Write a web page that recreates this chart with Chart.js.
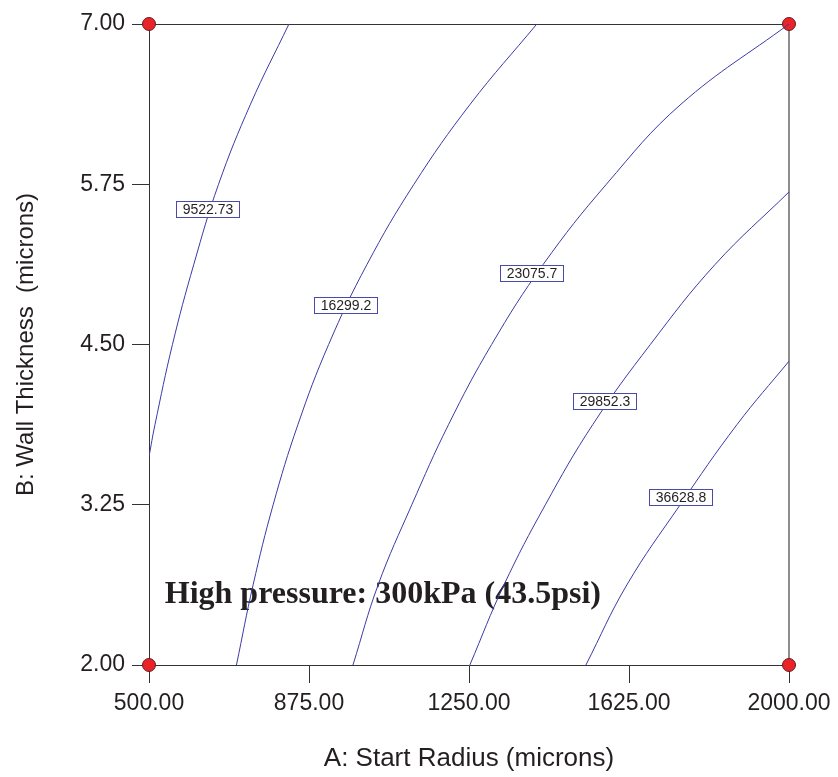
<!DOCTYPE html>
<html>
<head>
<meta charset="utf-8">
<script src="https://cdn.jsdelivr.net/npm/chart.js@4.4.1/dist/chart.umd.min.js"></script>
<style>
  html, body { margin: 0; padding: 0; background: #ffffff; }
  #wrap { width: 838px; height: 777px; }
</style>
</head>
<body>
<div id="wrap"><canvas id="chart" width="838" height="777"></canvas></div>
<script>
// Axis ticks
const radiusTicks = [500, 875, 1250, 1625, 2000];
const thicknessTicks = [2.00, 3.25, 4.50, 5.75, 7.00];

// Contour levels (pressure response) and the iso-lines, as [radius, thickness]
const levels = [9522.73, 16299.2, 23075.7, 29852.3, 36628.8];
const line9522 = [[500, 3.625], [514, 3.875], [555, 4.5], [605, 5.125], [663, 5.75], [738, 6.375], [828, 7.0]];
const line16299 = [[705, 2.0], [744, 2.625], [791, 3.25], [849, 3.875], [921, 4.5], [1011, 5.125], [1121, 5.75], [1253, 6.375], [1409, 7.0]];
const line23075 = [[978, 2.0], [1037, 2.625], [1116, 3.25], [1202, 3.875], [1303, 4.5], [1424, 5.125], [1572, 5.75], [1747, 6.375], [2000, 7.0]];
const line29852 = [[1252, 2.0], [1332, 2.625], [1429, 3.25], [1540, 3.875], [1675, 4.5], [1827, 5.125], [2000, 5.69]];
const line36628 = [[1524, 2.0], [1620, 2.625], [1745, 3.25], [1878, 3.875], [2000, 4.37]];

// Where each level's value tag sits on its line
const tagRadius = [638, 961, 1397, 1567, 1746];
const tagThickness = [5.56, 4.81, 5.06, 4.06, 3.31];

// Design points at the corners of the region
const designRadius = [500, 2000, 500, 2000];
const designThickness = [2, 2, 7, 7];

const noteText = 'High pressure: 300kPa (43.5psi)';
const noteAt = [537, 2.48];

const contourLines = [line9522, line16299, line23075, line29852, line36628];

const INK = '#231f20';
const LINE_BLUE = '#3a3aa6';
const SANS = '"Liberation Sans", Arial, sans-serif';

// Top and right frame edges plus the pressure note (drawn under the lines)
const framePlugin = {
  id: 'frame',
  beforeDatasetsDraw(chart) {
    const { ctx, chartArea: a, scales } = chart;
    ctx.save();
    ctx.font = 'bold 32px "Liberation Serif", "Times New Roman", serif';
    ctx.fillStyle = INK;
    ctx.textBaseline = 'alphabetic';
    ctx.textAlign = 'left';
    ctx.fillText(noteText, scales.x.getPixelForValue(noteAt[0]), scales.y.getPixelForValue(noteAt[1]));

    ctx.strokeStyle = '#333333';
    ctx.lineWidth = 1;
    ctx.beginPath();
    ctx.moveTo(a.left, Math.round(a.top) + 0.5);
    ctx.lineTo(a.right, Math.round(a.top) + 0.5);
    ctx.stroke();
    ctx.strokeStyle = '#8e8e8e';
    ctx.lineWidth = 2;
    ctx.beginPath();
    ctx.moveTo(Math.round(a.right), a.top);
    ctx.lineTo(Math.round(a.right), a.bottom);
    ctx.stroke();
    ctx.restore();
  }
};

// Boxed value tags on the contour lines
const tagPlugin = {
  id: 'tags',
  afterDatasetsDraw(chart) {
    const { ctx, scales } = chart;
    ctx.save();
    ctx.font = '14px ' + SANS;
    ctx.textAlign = 'center';
    ctx.textBaseline = 'middle';
    levels.forEach((lv, i) => {
      const cx = scales.x.getPixelForValue(tagRadius[i]);
      const cy = scales.y.getPixelForValue(tagThickness[i]);
      const w = 63, h = 16;
      const x0 = Math.round(cx - w / 2) + 0.5, y0 = Math.round(cy - h / 2) + 0.5;
      ctx.fillStyle = '#ffffff';
      ctx.fillRect(x0, y0, w, h);
      ctx.strokeStyle = '#4a4aae';
      ctx.lineWidth = 1;
      ctx.strokeRect(x0, y0, w, h);
      ctx.fillStyle = INK;
      ctx.fillText(String(lv), x0 + w / 2, y0 + h / 2 + 1);
    });
    ctx.restore();
  }
};

const datasets = contourLines.map((ln, i) => ({
  label: String(levels[i]),
  data: ln.map(p => ({ x: p[0], y: p[1] })),
  showLine: true,
  borderColor: LINE_BLUE,
  borderWidth: 1,
  pointRadius: 0,
  fill: false,
  tension: 0.4
}));

datasets.push({
  label: 'Design points',
  data: designRadius.map((r, i) => ({ x: r, y: designThickness[i] })),
  showLine: false,
  pointRadius: 6.5,
  pointBackgroundColor: '#e8232a',
  pointBorderColor: '#6a1c1c',
  pointBorderWidth: 1,
  clip: false
});

new Chart(document.getElementById('chart'), {
  type: 'scatter',
  data: { datasets },
  options: {
    responsive: false,
    animation: false,
    layout: { padding: { top: 24, right: 49, left: 0, bottom: 0 } },
    plugins: { legend: { display: false }, tooltip: { enabled: false } },
    scales: {
      x: {
        type: 'linear',
        min: 500,
        max: 2000,
        afterBuildTicks: s => { s.ticks = radiusTicks.map(v => ({ value: v })); },
        afterFit: s => { s.height = 112; },
        ticks: {
          callback: v => Number(v).toFixed(2),
          font: { size: 23, family: SANS },
          color: INK,
          padding: 7,
          maxRotation: 0,
          autoSkip: false
        },
        grid: { drawOnChartArea: false, drawTicks: true, tickLength: 18, color: '#333333', lineWidth: 1 },
        border: { display: true, color: '#333333', width: 1 },
        title: {
          display: true,
          text: 'A: Start Radius (microns)',
          font: { size: 26, family: SANS },
          color: INK,
          padding: { top: 0, bottom: 3 }
        }
      },
      y: {
        type: 'linear',
        min: 2,
        max: 7,
        afterBuildTicks: s => { s.ticks = thicknessTicks.map(v => ({ value: v })); },
        afterFit: s => { s.width = 149; },
        ticks: {
          callback: v => Number(v).toFixed(2),
          font: { size: 23, family: SANS },
          color: INK,
          padding: 7,
          autoSkip: false
        },
        grid: { drawOnChartArea: false, drawTicks: true, tickLength: 17, color: '#333333', lineWidth: 1 },
        border: { display: true, color: '#333333', width: 1 },
        title: {
          display: true,
          text: 'B: Wall Thickness  (microns)',
          font: { size: 24, family: SANS },
          color: INK,
          padding: { top: 12, bottom: 0 }
        }
      }
    }
  },
  plugins: [framePlugin, tagPlugin]
});
</script>
</body>
</html>
